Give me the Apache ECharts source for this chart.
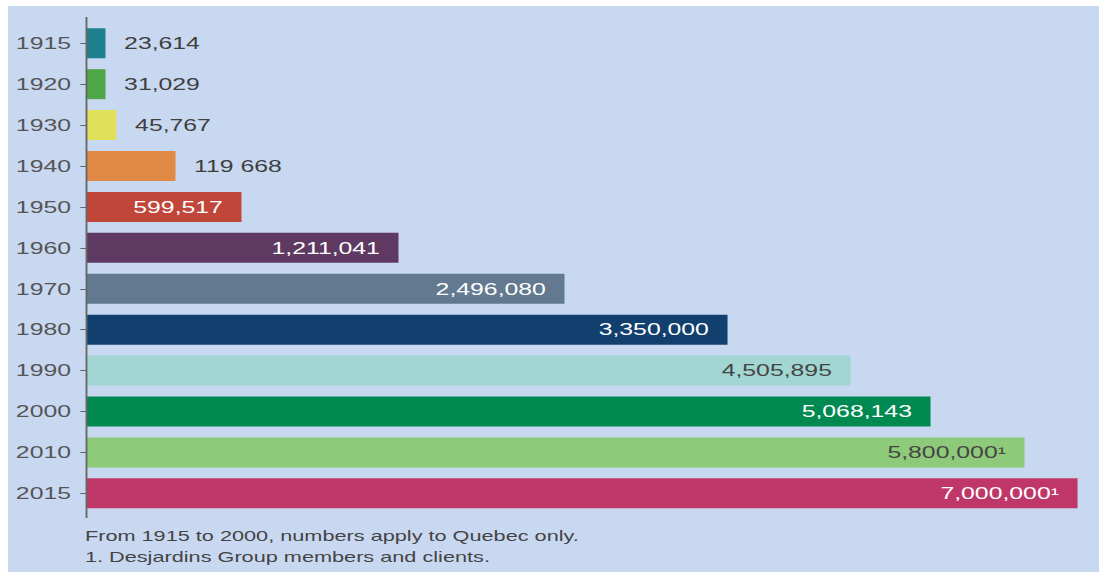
<!DOCTYPE html>
<html>
<head>
<meta charset="utf-8">
<title>Desjardins members</title>
<script src="https://cdn.jsdelivr.net/npm/echarts@6/dist/echarts.min.js"></script>
<style>
  html, body { margin: 0; padding: 0; background: #c9d8f1; overflow: hidden; }
  #edgeLeft { position: absolute; left: 0; top: 0; width: 8px; height: 2000px; background: #fff; }
  #edgeTop { position: absolute; left: 0; top: 0; width: 2000px; height: 6px; background: #fff; }
  /* the source picture is stretched horizontally, so the chart is drawn narrow and widened */
  #chart { position: absolute; left: 0; top: 0; width: 709px; height: 572px; transform: scaleX(1.55); transform-origin: 0 0; }
</style>
</head>
<body>
<div id="edgeLeft"></div>
<div id="edgeTop"></div>
<div id="chart"></div>
<script>
const years = ['1915', '1920', '1930', '1940', '1950', '1960', '1970', '1980', '1990', '2000', '2010', '2015']
// bar lengths as drawn in the picture (not proportional to the member counts)
const barLength = [19, 19, 30, 89, 155, 312, 478, 641, 764, 844, 938, 991]
const valueLabels = ['23,614', '31,029', '45,767', '119 668', '599,517', '1,211,041', '2,496,080',
  '3,350,000', '4,505,895', '5,068,143', '5,800,000¹', '7,000,000¹']
const barColors = ['#1e7f8d', '#4ea646', '#e1e05a', '#e08a46', '#c1463a', '#5e3962', '#62798f',
  '#12406e', '#a2d6d2', '#008a52', '#8dca7a', '#bf3769']
const labelColors = ['#3f3f3f', '#3f3f3f', '#3f3f3f', '#3f3f3f', '#ffffff', '#ffffff', '#ffffff',
  '#ffffff', '#454545', '#ffffff', '#454545', '#ffffff']
const outsideCount = 4
const notes = ['From 1915 to 2000, numbers apply to Quebec only.', '1. Desjardins Group members and clients.']

const font = '"Liberation Sans", Arial, sans-serif'
const axisX = 55.8

const chart = echarts.init(document.getElementById('chart'), null, { renderer: 'svg' })

const option = {
  animation: false,
  grid: { left: axisX, top: 22.8, width: 645.2, bottom: 58.2 },
  xAxis: {
    type: 'value',
    min: 0,
    max: 1000,
    show: false,
  },
  yAxis: {
    type: 'category',
    inverse: true,
    data: years,
    axisLine: { show: false },
    axisTick: {
      show: true,
      alignWithLabel: true,
      length: 4,
      lineStyle: { color: '#666', width: 1 },
    },
    axisLabel: {
      margin: 10,
      fontSize: 16,
      fontFamily: font,
      color: '#555',
    },
  },
  graphic: [
    {
      type: 'line',
      z: 10,
      shape: { x1: axisX, y1: 17, x2: axisX, y2: 518 },
      style: { stroke: '#666', lineWidth: 1.2 },
    },
    {
      type: 'text',
      style: { text: notes[0], x: 54.8, y: 536, verticalAlign: 'middle', font: '14px ' + font, fill: '#444' },
    },
    {
      type: 'text',
      style: { text: notes[1], x: 54.8, y: 557, verticalAlign: 'middle', font: '14px ' + font, fill: '#444' },
    },
  ],
  series: [
    {
      type: 'bar',
      barWidth: 30,
      silent: true,
      data: barLength.map((v, i) => ({
        value: v,
        itemStyle: { color: barColors[i] },
        label: {
          show: true,
          position: i < outsideCount ? 'right' : 'insideRight',
          distance: 12,
          formatter: valueLabels[i],
          fontSize: 16,
          fontFamily: font,
          color: labelColors[i],
        },
      })),
    },
  ],
}

chart.setOption(option)
</script>
</body>
</html>
